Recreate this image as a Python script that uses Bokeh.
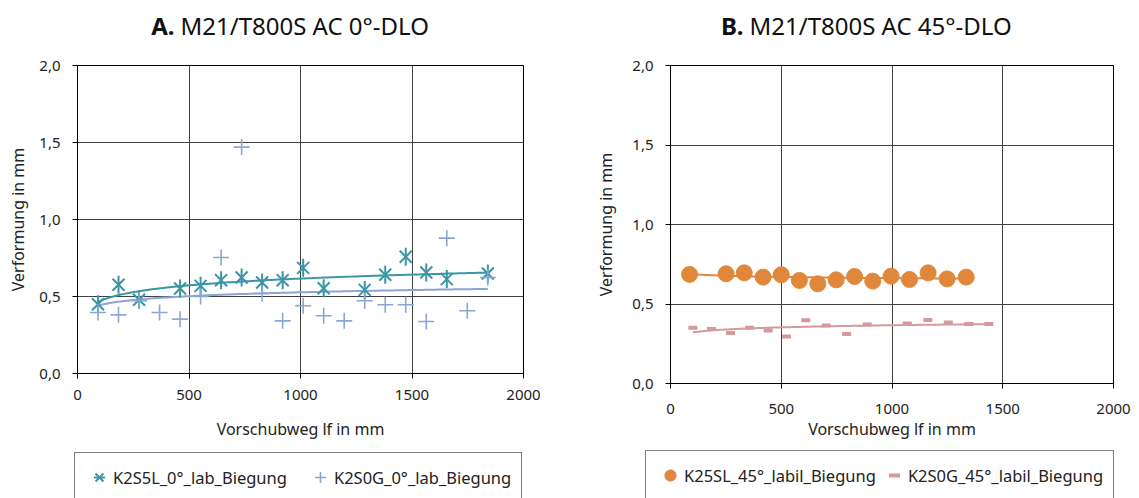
import numpy as np
from bokeh.plotting import figure
from bokeh.layouts import row, column
from bokeh.models import (Range1d, FixedTicker, CustomJSTickFormatter, Legend, LegendItem, Label)
from bokeh.embed import file_html
from bokeh.resources import INLINE

# ---------------- data ----------------
# Panel A: M21/T800S AC 0°-DLO
a1_x = [92, 184, 276, 460, 552, 644, 736, 828, 920, 1012, 1104, 1288, 1380, 1472, 1564, 1656, 1840]
a1_y = [0.45, 0.576, 0.479, 0.552, 0.569, 0.606, 0.623, 0.591, 0.606, 0.686, 0.554, 0.543, 0.641, 0.758, 0.656, 0.613, 0.649]
a2_x = [92, 184, 276, 368, 460, 552, 644, 736, 828, 920, 1012, 1104, 1196, 1288, 1380, 1472, 1564, 1656, 1748, 1840]
a2_y = [0.396, 0.381, 0.472, 0.396, 0.353, 0.50, 0.753, 1.47, 0.519, 0.342, 0.44, 0.375, 0.342, 0.472, 0.446, 0.446, 0.338, 0.879, 0.407, 0.623]
# Panel B: M21/T800S AC 45°-DLO
b1_x = [86, 251, 333, 418, 500, 582, 665, 748, 831, 913, 996, 1079, 1163, 1249, 1335]
b1_y = [0.686, 0.690, 0.696, 0.669, 0.684, 0.648, 0.627, 0.652, 0.673, 0.644, 0.675, 0.654, 0.696, 0.658, 0.669]
b2_x = [101, 185, 271, 357, 441, 524, 611, 703, 795, 888, 1069, 1162, 1254, 1347, 1437]
b2_y = [0.350, 0.342, 0.317, 0.350, 0.333, 0.296, 0.398, 0.365, 0.312, 0.371, 0.377, 0.400, 0.384, 0.375, 0.375]

titles = [("A.", "M21/T800S AC 0°-DLO"), ("B.", "M21/T800S AC 45°-DLO")]
labels_a = ["K2S5L_0°_lab_Biegung", "K2S0G_0°_lab_Biegung"]
labels_b = ["K25SL_45°_labil_Biegung", "K2S0G_45°_labil_Biegung"]
x_ticks = [0, 500, 1000, 1500, 2000]
y_ticks = [0.0, 0.5, 1.0, 1.5, 2.0]
x_label = "Vorschubweg lf in mm"
y_label = "Verformung in mm"

FONT = "Noto Sans"
TEAL = "#3A96A6"
LBLUE = "#8CA6D3"
ORANGE = "#E0873C"
PINK = "#D49A9A"
TITLE_H = 45

# marker styles (shared by plot and legend)
STY_A1 = [dict(marker="x", size=17, line_color=TEAL, line_width=2),
          dict(marker="dash", angle=np.pi / 2, size=18, line_color=TEAL, line_width=2)]
STY_A2 = [dict(marker="cross", size=16, line_color=LBLUE, line_width=1.6)]
STY_B1 = [dict(marker="circle", size=16, fill_color=ORANGE, line_color=ORANGE)]
STY_B2 = [dict(marker="dash", size=9, line_color=PINK, line_width=4)]


def log_trend(xs, ys, n=120):
    xs = np.asarray(xs, float)
    ys = np.asarray(ys, float)
    a, b = np.polyfit(np.log(xs), ys, 1)
    xx = np.linspace(xs.min(), xs.max(), n)
    return xx, a * np.log(xx) + b


def strip_fig(width, height):
    t = figure(width=width, height=height, output_backend="svg", toolbar_location=None,
               x_range=Range1d(0, width), y_range=Range1d(0, height),
               x_axis_type=None, y_axis_type=None, min_border=0)
    t.frame_align = False
    t.outline_line_color = None
    t.border_fill_color = "white"
    t.background_fill_color = "white"
    t.xgrid.visible = False
    t.ygrid.visible = False
    return t


def title_fig(width, bold, rest, xa):
    t = strip_fig(width, TITLE_H)
    t.add_layout(Label(x=xa, y=TITLE_H - 25, text=bold,
                       text_font=FONT, text_font_size="24px", text_font_style="bold",
                       text_align="right", text_baseline="middle", text_color="#111111"))
    t.add_layout(Label(x=xa + 6, y=TITLE_H - 25, text=rest,
                       text_font=FONT, text_font_size="24px",
                       text_align="left", text_baseline="middle", text_color="#111111"))
    return t


def legend_fig(width, height, labels, styles, lx, ly, spacing):
    lf = strip_fig(width, height)
    items = []
    for lab, sty in zip(labels, styles):
        # one sample mark placed outside the visible strip; it only feeds the legend icon
        rs = [lf.scatter(x=[-500], y=[-500], **s) for s in sty]
        items.append(LegendItem(label=lab, renderers=rs))
    lg = Legend(items=items, location=(lx, ly))
    lg.orientation = "horizontal"
    lg.border_line_color = "black"
    lg.border_line_width = 1
    lg.background_fill_color = "white"
    lg.background_fill_alpha = 1
    lg.label_text_font = FONT
    lg.label_text_font_size = "16.5px"
    lg.label_text_color = "#222222"
    lg.glyph_width = 28
    lg.glyph_height = 28
    lg.label_standoff = 0
    lg.spacing = spacing
    lg.padding = 10
    lg.margin = 0
    lf.add_layout(lg)
    return lf


def make_fig(width, height, left, right, top, bottom, xl_so, xa_so, yl_so, ya_so):
    p = figure(width=width, height=height, output_backend="svg", toolbar_location=None,
               x_range=Range1d(0, 2000), y_range=Range1d(0, 2),
               min_border_left=left, min_border_right=right,
               min_border_top=top, min_border_bottom=bottom)
    p.frame_align = False
    p.outline_line_color = "black"
    p.outline_line_width = 1
    p.background_fill_color = "white"
    p.border_fill_color = "white"
    p.xaxis.ticker = FixedTicker(ticks=x_ticks)
    p.yaxis.ticker = FixedTicker(ticks=y_ticks)
    p.yaxis.formatter = CustomJSTickFormatter(code="return tick.toFixed(1).replace('.', ',');")
    p.xaxis.formatter = CustomJSTickFormatter(code="return tick.toFixed(0);")
    for ax in (p.xaxis[0], p.yaxis[0]):
        ax.axis_line_color = "black"
        ax.major_tick_line_color = "black"
        ax.major_tick_out = 5
        ax.major_tick_in = 0
        ax.minor_tick_line_color = None
        ax.major_label_text_font = FONT
        ax.major_label_text_font_size = "15px"
        ax.major_label_text_color = "#222222"
        ax.axis_label_text_font = FONT
        ax.axis_label_text_font_size = "16px"
        ax.axis_label_text_font_style = "normal"
        ax.axis_label_text_color = "#222222"
    p.xaxis.axis_label = x_label
    p.yaxis.axis_label = y_label
    p.xaxis.major_label_standoff = xl_so
    p.xaxis.axis_label_standoff = xa_so
    p.yaxis.major_label_standoff = yl_so
    p.yaxis.axis_label_standoff = ya_so
    p.xgrid.grid_line_color = "#404040"
    p.ygrid.grid_line_color = "#404040"
    return p


# ---------------- Panel A ----------------
HA = 403
pA = make_fig(580, HA, 77, 57, 65 - TITLE_H, (TITLE_H + HA) - 373, 11, 15, 12, 7)
tx, ty = log_trend(a1_x, a1_y)
pA.line(tx, ty, line_color=TEAL, line_width=2)
tx, ty = log_trend(a2_x, a2_y)
pA.line(tx, ty, line_color=LBLUE, line_width=2)
for s in STY_A1:
    pA.scatter(a1_x, a1_y, **s)
for s in STY_A2:
    pA.scatter(a2_x, a2_y, **s)
tA = title_fig(580, titles[0][0], titles[0][1], 174)
lA = legend_fig(580, 498 - TITLE_H - HA, labels_a, [STY_A1, STY_A2], 74, -4, 19)

# ---------------- Panel B ----------------
HB = 401
pB = make_fig(559, HB, 90, 26, 65 - TITLE_H, (TITLE_H + HB) - 383, 15, 1, 12, 12)
tx, ty = log_trend(b1_x, b1_y)
pB.line(tx, ty, line_color=ORANGE, line_width=2)
tx, ty = log_trend(b2_x, b2_y)
pB.line(tx, ty, line_color=PINK, line_width=2)
for s in STY_B1:
    pB.scatter(b1_x, b1_y, **s)
for s in STY_B2:
    pB.scatter(b2_x, b2_y, **s)
tB = title_fig(559, titles[1][0], titles[1][1], 163)
lB = legend_fig(559, 498 - TITLE_H - HB, labels_b, [STY_B1, STY_B2], 65, -2, 4)

layout = row(column(tA, pA, lA), column(tB, pB, lB))
open("out.html", "w").write(file_html(layout, INLINE))
